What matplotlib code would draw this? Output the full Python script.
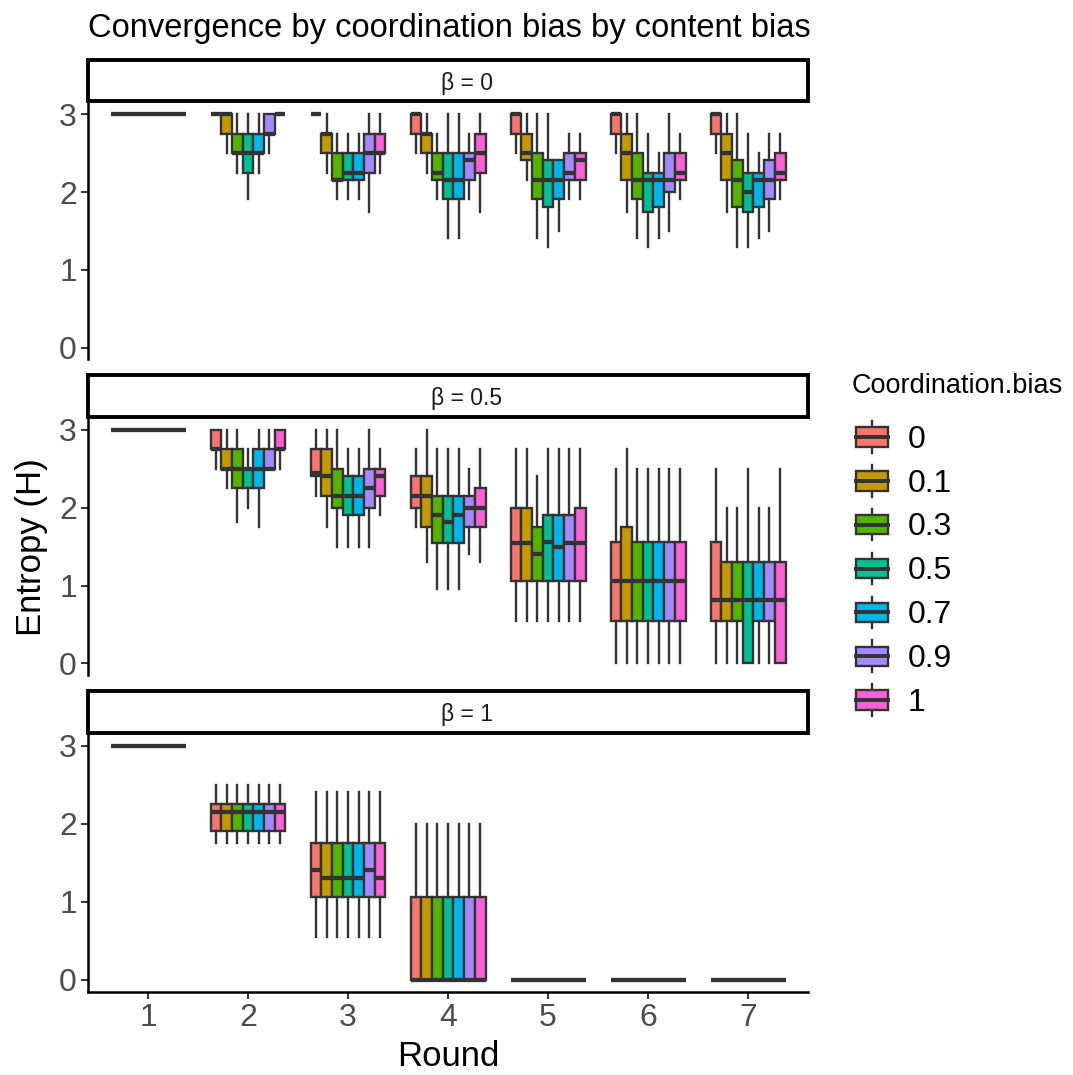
import matplotlib
matplotlib.use("Agg")
import matplotlib.pyplot as plt
from matplotlib.patches import Rectangle, Patch
from matplotlib.lines import Line2D
from matplotlib.legend_handler import HandlerBase

plt.rcParams['font.family'] = ['Liberation Sans', 'DejaVu Sans']

# ---------------- data ----------------
ROUNDS = [1, 2, 3, 4, 5, 6, 7]
GROUPS = ["0", "0.1", "0.3", "0.5", "0.7", "0.9", "1"]
COLORS = ["#F8766D", "#C49A00", "#53B400", "#00C094", "#00B6EB", "#A58AFF", "#FB61D7"]
PANELS = ["\u03b2 = 0", "\u03b2 = 0.5", "\u03b2 = 1"]
TITLE = "Convergence by coordination bias by content bias"
XLABEL = "Round"
YLABEL = "Entropy (H)"
LEGEND_TITLE = "Coordination.bias"

# rows = coordination bias groups, columns = rounds 1..7
# ---- beta = 0 ----
B0_MED = [[3, 3, 3, 3, 3, 3, 3],
          [3, 3, 2.75, 2.75, 2.5, 2.5, 2.5],
          [3, 2.5, 2.156, 2.25, 2.156, 2.156, 2.156],
          [3, 2.5, 2.25, 2.156, 2.156, 2.156, 2.0],
          [3, 2.5, 2.25, 2.156, 2.156, 2.156, 2.156],
          [3, 2.75, 2.5, 2.406, 2.25, 2.156, 2.156],
          [3, 3, 2.5, 2.5, 2.406, 2.25, 2.25]]
B0_Q1 = [[3, 3, 3, 2.75, 2.75, 2.75, 2.75],
         [3, 2.75, 2.5, 2.5, 2.406, 2.156, 2.156],
         [3, 2.5, 2.156, 2.156, 1.906, 1.906, 1.811],
         [3, 2.25, 2.156, 1.906, 1.811, 1.75, 1.75],
         [3, 2.5, 2.156, 1.906, 1.906, 1.811, 1.811],
         [3, 2.75, 2.25, 2.156, 2.156, 2.0, 1.906],
         [3, 3, 2.5, 2.25, 2.156, 2.156, 2.156]]
B0_Q3 = [[3, 3, 3, 3, 3, 3, 3],
         [3, 3, 2.75, 2.75, 2.75, 2.75, 2.75],
         [3, 2.75, 2.5, 2.5, 2.5, 2.5, 2.406],
         [3, 2.75, 2.5, 2.5, 2.406, 2.25, 2.25],
         [3, 2.75, 2.5, 2.5, 2.406, 2.25, 2.25],
         [3, 3, 2.75, 2.5, 2.5, 2.5, 2.406],
         [3, 3, 2.75, 2.75, 2.5, 2.5, 2.5]]
B0_LO = [[3, 3, 3, 2.5, 2.5, 2.5, 2.5],
         [3, 2.5, 2.25, 2.25, 2.156, 1.75, 1.75],
         [3, 2.25, 1.906, 1.906, 1.406, 1.406, 1.299],
         [3, 1.906, 1.906, 1.406, 1.299, 1.299, 1.299],
         [3, 2.25, 1.906, 1.406, 1.5, 1.406, 1.406],
         [3, 2.5, 1.75, 1.906, 1.906, 1.5, 1.5],
         [3, 3, 2.25, 1.75, 1.906, 1.906, 1.906]]
B0_HI = [[3, 3, 3, 3, 3, 3, 3],
         [3, 3, 3, 3, 3, 3, 3],
         [3, 3, 2.75, 2.75, 3, 3, 3],
         [3, 3, 2.75, 3, 3, 2.75, 2.75],
         [3, 3, 2.75, 3, 2.406, 2.5, 2.5],
         [3, 3, 3, 2.75, 2.75, 3, 2.75],
         [3, 3, 3, 3, 2.75, 2.75, 2.75]]

# ---- beta = 0.5 ----
B5_MED = [[3, 2.75, 2.453, 2.156, 1.549, 1.061, 0.811],
          [3, 2.5, 2.406, 2.156, 1.549, 1.061, 0.811],
          [3, 2.5, 2.156, 1.906, 1.406, 1.061, 0.811],
          [3, 2.5, 2.156, 1.811, 1.561, 1.061, 0.811],
          [3, 2.5, 2.156, 1.906, 1.5, 1.061, 0.811],
          [3, 2.5, 2.25, 2.0, 1.549, 1.061, 0.811],
          [3, 2.75, 2.406, 2.0, 1.549, 1.061, 0.811]]
B5_Q1 = [[3, 2.75, 2.406, 2.0, 1.061, 0.544, 0.544],
         [3, 2.5, 2.156, 1.75, 1.061, 0.544, 0.544],
         [3, 2.25, 2.0, 1.549, 1.061, 0.544, 0.544],
         [3, 2.25, 1.906, 1.549, 1.061, 0.544, 0],
         [3, 2.25, 1.906, 1.549, 1.061, 0.544, 0.544],
         [3, 2.5, 2.0, 1.75, 1.061, 0.544, 0.544],
         [3, 2.75, 2.156, 1.75, 1.061, 0.544, 0]]
B5_Q3 = [[3, 3, 2.75, 2.406, 2.0, 1.561, 1.561],
         [3, 2.75, 2.75, 2.406, 2.0, 1.75, 1.299],
         [3, 2.75, 2.5, 2.156, 1.75, 1.561, 1.299],
         [3, 2.5, 2.406, 2.156, 1.906, 1.561, 1.299],
         [3, 2.75, 2.406, 2.156, 1.906, 1.561, 1.299],
         [3, 2.75, 2.5, 2.156, 1.906, 1.561, 1.299],
         [3, 3, 2.5, 2.25, 2.0, 1.561, 1.299]]
B5_LO = [[3, 2.5, 2.156, 1.75, 0.544, 0, 0],
         [3, 2.25, 1.75, 1.299, 0.544, 0, 0],
         [3, 1.811, 1.5, 0.954, 0.544, 0, 0],
         [3, 2.0, 1.5, 0.954, 0.544, 0, 0],
         [3, 1.75, 1.5, 0.954, 0.544, 0, 0],
         [3, 2.5, 1.5, 1.406, 0.544, 0, 0],
         [3, 2.5, 1.906, 1.299, 0.544, 0, 0]]
B5_HI = [[3, 3, 3, 2.75, 2.75, 2.5, 2.5],
         [3, 3, 3, 3, 2.75, 2.75, 2.0],
         [3, 3, 3, 2.75, 2.406, 2.5, 2.0],
         [3, 2.75, 2.75, 2.75, 2.75, 2.5, 2.5],
         [3, 3, 2.75, 2.75, 2.75, 2.5, 2.0],
         [3, 3, 3, 2.5, 2.75, 2.5, 2.0],
         [3, 3, 2.75, 2.75, 2.75, 2.5, 2.5]]

# ---- beta = 1 ----
B1_MED = [[3, 2.156, 1.406, 0, 0, 0, 0],
          [3, 2.156, 1.299, 0, 0, 0, 0],
          [3, 2.156, 1.299, 0, 0, 0, 0],
          [3, 2.156, 1.299, 0, 0, 0, 0],
          [3, 2.156, 1.299, 0, 0, 0, 0],
          [3, 2.156, 1.406, 0, 0, 0, 0],
          [3, 2.156, 1.299, 0, 0, 0, 0]]
B1_Q1 = [[3, 1.906, 1.061, 0, 0, 0, 0]] * 7
B1_Q3 = [[3, 2.25, 1.75, 1.061, 0, 0, 0]] * 7
B1_LO = [[3, 1.75, 0.544, 0, 0, 0, 0]] * 7
B1_HI = [[3, 2.5, 2.406, 2.0, 0, 0, 0]] * 7

PANEL_DATA = [
    (B0_MED, B0_Q1, B0_Q3, B0_LO, B0_HI),
    (B5_MED, B5_Q1, B5_Q3, B5_LO, B5_HI),
    (B1_MED, B1_Q1, B1_Q3, B1_LO, B1_HI),
]

# ---------------- layout ----------------
W, H = 1073, 1075
fig = plt.figure(figsize=(W / 100, H / 100), dpi=100)
EDGE = "#333333"
LEFT, RIGHT = 88, 808
PANEL_Y = [(102.6, 359.4), (418.3, 675.0), (734.0, 991.5)]
STRIP_H = 43
LW_BOX = 1.7
LW_MED = 3.1

dodge = 0.75
bw = dodge / len(GROUPS)

for p, (name, (med, q1, q3, lo, hi)) in enumerate(zip(PANELS, PANEL_DATA)):
    top, bot = PANEL_Y[p]
    ax = fig.add_axes([LEFT / W, 1 - bot / H, (RIGHT - LEFT) / W, (bot - top) / H])
    for g in range(len(GROUPS)):
        stats = []
        for r in range(len(ROUNDS)):
            stats.append(dict(med=med[g][r], q1=q1[g][r], q3=q3[g][r],
                              whislo=lo[g][r], whishi=hi[g][r], fliers=[]))
        pos = [x + (g - (len(GROUPS) - 1) / 2) * bw for x in ROUNDS]
        ax.bxp(stats, positions=pos, widths=bw, patch_artist=True,
               showcaps=False, showfliers=False, manage_ticks=False,
               boxprops=dict(facecolor=COLORS[g], edgecolor=EDGE, linewidth=LW_BOX),
               medianprops=dict(color=EDGE, linewidth=LW_MED, solid_capstyle='butt'),
               whiskerprops=dict(color=EDGE, linewidth=LW_BOX))
    ax.set_xlim(0.4, 7.6)
    ax.set_ylim(-0.15, 3.15)
    ax.set_yticks([0, 1, 2, 3])
    ax.set_yticklabels(["0", "1", "2", "3"])
    for s in ["top", "right"]:
        ax.spines[s].set_visible(False)
    ax.spines["left"].set_linewidth(1.8)
    ax.tick_params(axis='y', labelsize=23, labelcolor="#4D4D4D", color=EDGE,
                   length=5, width=1.4, pad=3)
    if p == len(PANELS) - 1:
        ax.spines["bottom"].set_linewidth(1.8)
        ax.set_xticks(ROUNDS)
        ax.set_xticklabels([str(r) for r in ROUNDS])
        ax.tick_params(axis='x', labelsize=23, labelcolor="#4D4D4D", color=EDGE,
                       length=5, width=1.4, pad=3)
    else:
        ax.spines["bottom"].set_visible(False)
        ax.set_xticks([])
    # strip
    st = top - STRIP_H
    fig.patches.append(Rectangle((LEFT / W, 1 - (top - 1.5) / H), (RIGHT - LEFT) / W,
                                 (STRIP_H - 1.5) / H,
                                 transform=fig.transFigure, facecolor="white",
                                 edgecolor="black", linewidth=2.8))
    fig.text(467 / W, 1 - (st + STRIP_H / 2 + 2) / H, name,
             ha="center", va="center", fontsize=16.5, color="#1A1A1A")

fig.text(LEFT / W, 1 - 29 / H, TITLE, ha="left", va="center", fontsize=23.5)
fig.text(448 / W, 1 - 1057 / H, XLABEL, ha="center", va="center", fontsize=25)
fig.text(32 / W, 1 - 547 / H, YLABEL, ha="center", va="center", rotation=90, fontsize=25)
fig.text(852 / W, 1 - 386 / H, LEGEND_TITLE, ha="left", va="center", fontsize=19.5)


class BoxHandler(HandlerBase):
    def create_artists(self, legend, orig_handle, xdescent, ydescent, width, height,
                       fontsize, trans):
        x0, y0 = -xdescent, -ydescent
        cx = x0 + width / 2
        bh = height * 0.62
        by = y0 + (height - bh) / 2
        rect = Rectangle((x0, by), width, bh, facecolor=orig_handle.get_facecolor(),
                         edgecolor=EDGE, linewidth=LW_BOX, transform=trans)
        medl = Line2D([x0, x0 + width], [y0 + height / 2] * 2, color=EDGE,
                      linewidth=2.8, transform=trans)
        w1 = Line2D([cx, cx], [by + bh, y0 + height], color=EDGE, linewidth=LW_BOX,
                    transform=trans)
        w2 = Line2D([cx, cx], [y0, by], color=EDGE, linewidth=LW_BOX, transform=trans)
        return [w1, w2, rect, medl]


handles = [Patch(facecolor=c) for c in COLORS]
leg = fig.legend(handles, GROUPS, handler_map={Patch: BoxHandler()},
                 loc="upper left", bbox_to_anchor=(856 / W, 1 - 421 / H),
                 frameon=False, fontsize=23,
                 handlelength=1.0, handleheight=1.15, labelspacing=0.32,
                 handletextpad=0.62, borderpad=0, borderaxespad=0)

fig.savefig("out.png", dpi=100)
